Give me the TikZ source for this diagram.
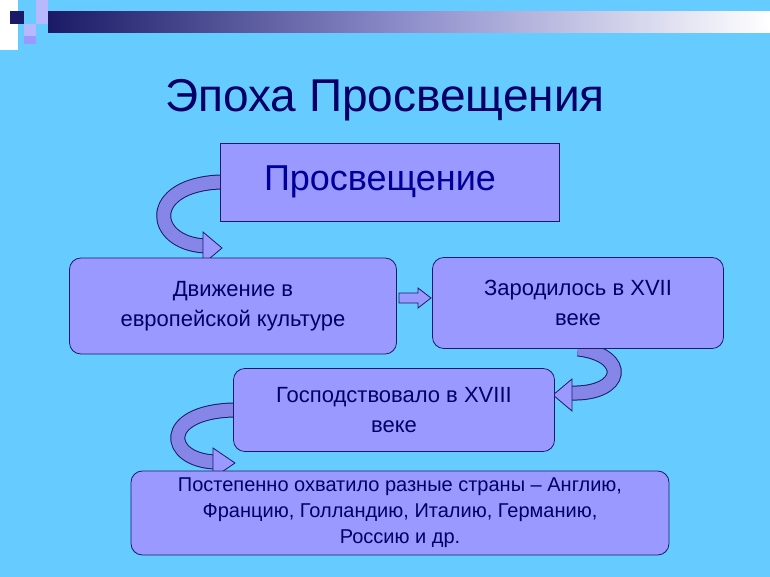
\documentclass[tikz,border=0pt]{standalone}
\usepackage{fontspec}
\setmainfont{Liberation Sans}
\usetikzlibrary{positioning}
\definecolor{sky}{HTML}{66CCFF}
\definecolor{lilac}{HTML}{9999FF}
\definecolor{navy}{HTML}{1A1A66}
\definecolor{ink}{HTML}{000066}
\pgfdeclarelayer{sheet}
\pgfdeclarelayer{ribbon}
\pgfsetlayers{sheet,ribbon,main}
\tikzset{
  box/.style={
    % The shape:
    shape=rectangle,rounded corners=4mm,
    % The border:
    draw=navy,thick,
    % The filling:
    fill=lilac,
    text=ink,font=\fontsize{22}{30}\selectfont,align=center},
  bent/.style={draw=navy,line width=15pt},
  bentin/.style={draw=lilac!85!navy,line width=13pt},
  tip/.style={draw=navy,thick,fill=lilac,line join=miter}}
\begin{document}
\begin{tikzpicture}[x=1pt,y=-1pt]
	\begin{pgfonlayer}{sheet}
	\fill[sky] (0,0) rectangle (770,577);
	% Bar at the top
	\shade[left color=navy,right color=white,middle color=lilac!60!gray] (48,12) rectangle (770,33);
	\fill[white] (0,0) rectangle (18,50);
	\fill[navy] (10,11) rectangle (24,24);
	\fill[lilac!70!white] (24,24) rectangle (36,36);
	\fill[lilac] (24,36) rectangle (36,44);
	\fill[lilac!70!white] (36,0) rectangle (48,24);
	\end{pgfonlayer}
	\useasboundingbox (0,0) rectangle (770,577);
	% Title
	\node[text=ink,font=\fontsize{46}{50}\selectfont] (title) at (385,100) {Эпоха Просвещения};
	% Boxes
	\node[box,rounded corners=0pt,minimum width=339,minimum height=78,text=blue!60!black,
	  font=\fontsize{36}{40}\selectfont] (top) at (390,182) {\hspace*{-20pt}Просвещение};
	\node[box,minimum width=327,minimum height=96] (move) at (233,306) {Движение в\\европейской культуре};
	\node[box,minimum width=291,minimum height=91] (born) at (578,303) {Зародилось в XVII\\веке};
	\node[box,minimum width=321,minimum height=83] (rule) at (394,410) {Господствовало в XVIII\\веке};
	\node[box,minimum width=538,minimum height=84,font=\fontsize{20}{26}\selectfont] (spread) at (400,513)
	  {Постепенно охватило разные страны – Англию,\\Францию, Голландию, Италию, Германию,\\Россию и др.};
	\begin{pgfonlayer}{ribbon}
	% Arrow from top to move
	\draw[bent] (top.west) .. controls (145,185) and (150,243) .. (205,246);
	\draw[bentin] (top.west) .. controls (145,185) and (150,243) .. (205,246);
	\draw[tip] (203,232) -- (222,248) -- (203,264) -- cycle;
	% Arrow from born to rule
	\draw[bent] (born.south) .. controls (630,355) and (625,395) .. (570,393);
	\draw[bentin] (born.south) .. controls (630,355) and (625,395) .. (570,393);
	\draw[tip] (572,379) -- (553,395) -- (572,411) -- cycle;
	% Arrow from rule to spread
	\draw[bent] (rule.west) .. controls (160,412) and (165,460) .. (215,462);
	\draw[bentin] (rule.west) .. controls (160,412) and (165,460) .. (215,462);
	\draw[tip] (213,448) -- (235,463) -- (213,478) -- cycle;
	\end{pgfonlayer}
	% Arrow from move to born
	\draw[tip] (399,293) -- (418,293) -- (418,288) -- (431,298) -- (418,308) -- (418,303) -- (399,303) -- cycle;
\end{tikzpicture}
\end{document}
